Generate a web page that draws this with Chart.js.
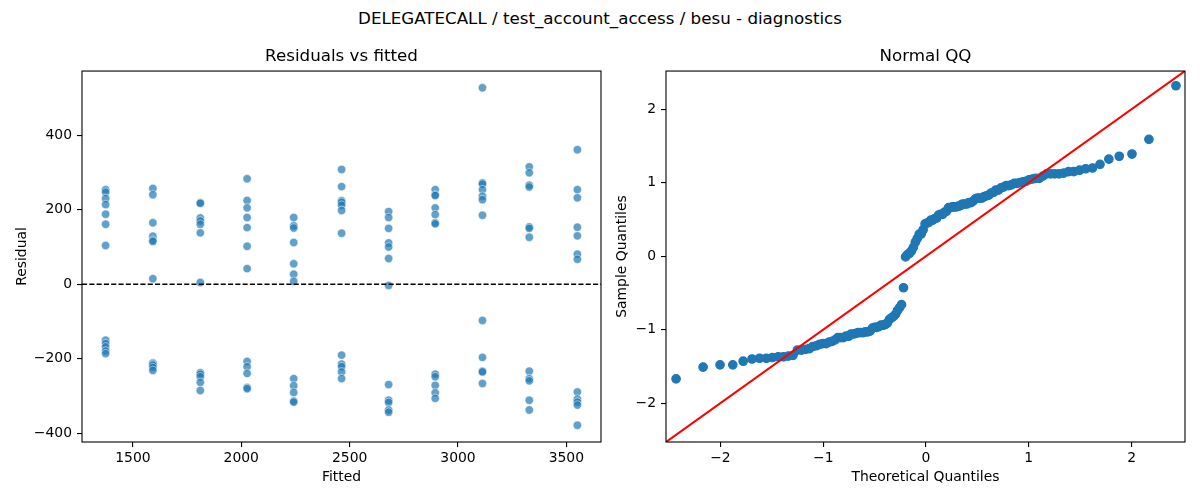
<!DOCTYPE html>
<html>
<head>
<meta charset="utf-8">
<title>DELEGATECALL / test_account_access / besu - diagnostics</title>
<script src="https://cdn.jsdelivr.net/npm/chart.js@4.4.1/dist/chart.umd.min.js"></script>
<style>
  body { margin: 0; background: #fff; }
  #fig { position: relative; width: 1200px; height: 500px; font-family: "DejaVu Sans", sans-serif; }
  #suptitle { position: absolute; left: 0; top: 8px; width: 1200px; text-align: center; font-size: 16.7px; line-height: 20px; color: #000; }
  canvas { position: absolute; left: 0; top: 0; }
</style>
</head>
<body>
<div id="fig">
  <div id="suptitle">DELEGATECALL / test_account_access / besu - diagnostics</div>
  <canvas id="residChart" width="1200" height="500"></canvas>
  <canvas id="qqChart" width="1200" height="500"></canvas>
</div>
<script>
// residuals vs fitted: one row of residuals per fitted level
const fittedLevels = [1374, 1592, 1811, 2027, 2242, 2463, 2680, 2895, 3113, 3329, 3551];
const residuals = [
    [254, 247, 230, 214, 188, 161, 104, -150, -159, -168, -179, -186],
    [257, 240, 165, 129, 118, 115, 15, -211, -214, -217, -223, -231],
    [219, 217, 178, 170, 161, 138, 5, -237, -241, -248, -263, -285],
    [283, 225, 205, 179, 152, 102, 42, -207, -221, -239, -277, -280],
    [179, 157, 151, 112, 55, 27, 8, -253, -272, -290, -313, -316],
    [308, 262, 224, 220, 212, 198, 137, -190, -214, -221, -235, -253],
    [195, 179, 150, 111, 100, 69, -3, -269, -311, -317, -337, -343],
    [254, 240, 238, 205, 187, 165, 162, -241, -248, -271, -291, -306],
    [527, 272, 269, 254, 236, 227, 185, -97, -196, -233, -235, -266],
    [315, 299, 266, 261, 154, 150, 126, -233, -253, -259, -311, -337],
    [361, 254, 232, 153, 130, 81, 67, -289, -308, -316, -324, -378]
];
const fittedRange = [1265, 3660];
const residualRange = [-423, 572];
const fittedTicks = [1500, 2000, 2500, 3000, 3500];
const residualTicks = [-400, -200, 0, 200, 400];

// normal QQ
const theoreticalQuantiles = [
    -2.432, -2.169, -2.004, -1.880, -1.779, -1.693, -1.620, -1.554, -1.494, -1.438,
    -1.387, -1.340, -1.294, -1.252, -1.212, -1.174, -1.137, -1.102, -1.068, -1.035,
    -1.003, -0.972, -0.943, -0.914, -0.885, -0.858, -0.831, -0.805, -0.779, -0.753,
    -0.729, -0.704, -0.681, -0.657, -0.634, -0.611, -0.589, -0.566, -0.544, -0.522,
    -0.501, -0.480, -0.459, -0.438, -0.417, -0.397, -0.376, -0.356, -0.336, -0.316,
    -0.296, -0.277, -0.257, -0.238, -0.219, -0.199, -0.180, -0.161, -0.142, -0.123,
    -0.104, -0.085, -0.066, -0.047, -0.028, -0.009,
    0.009, 0.028, 0.047, 0.066, 0.085, 0.104, 0.123, 0.142, 0.161, 0.180,
    0.199, 0.219, 0.238, 0.257, 0.277, 0.296, 0.316, 0.336, 0.356, 0.376,
    0.397, 0.417, 0.438, 0.459, 0.480, 0.501, 0.522, 0.544, 0.566, 0.589,
    0.611, 0.634, 0.657, 0.681, 0.704, 0.729, 0.753, 0.779, 0.805, 0.831,
    0.858, 0.885, 0.914, 0.943, 0.972, 1.003, 1.035, 1.068, 1.102, 1.137,
    1.174, 1.212, 1.252, 1.294, 1.340, 1.387, 1.438, 1.494, 1.554, 1.620,
    1.693, 1.779, 1.880, 2.004, 2.169, 2.432
];
const sampleQuantiles = [
    -1.67, -1.51, -1.48, -1.48, -1.43, -1.40, -1.39, -1.39, -1.38, -1.37,
    -1.37, -1.36, -1.35, -1.28, -1.28, -1.27, -1.26, -1.23, -1.22, -1.20,
    -1.19, -1.19, -1.17, -1.16, -1.14, -1.11, -1.11, -1.11, -1.09, -1.09,
    -1.06, -1.06, -1.05, -1.04, -1.04, -1.04, -1.03, -1.03, -1.02, -0.98,
    -0.97, -0.97, -0.96, -0.94, -0.94, -0.93, -0.91, -0.86, -0.84, -0.82,
    -0.79, -0.74, -0.70, -0.66, -0.43, -0.01,
    0.02, 0.04, 0.07, 0.12, 0.19, 0.24, 0.30, 0.30, 0.36, 0.44,
    0.45, 0.46, 0.49, 0.49, 0.51, 0.52, 0.56, 0.57, 0.57, 0.60,
    0.61, 0.66, 0.66, 0.67, 0.67, 0.67, 0.68, 0.69, 0.71, 0.71,
    0.71, 0.73, 0.73, 0.75, 0.78, 0.79, 0.79, 0.79, 0.81, 0.82,
    0.83, 0.86, 0.87, 0.90, 0.90, 0.93, 0.94, 0.96, 0.96, 0.97,
    0.99, 0.99, 1.00, 1.01, 1.02, 1.04, 1.05, 1.06, 1.06, 1.09,
    1.12, 1.12, 1.12, 1.12, 1.13, 1.15, 1.15, 1.17, 1.19, 1.20,
    1.25, 1.32, 1.36, 1.39, 1.59, 2.32
];
const qqRange = [-2.53, 2.52];
const qqTicks = [-2, -1, 0, 1, 2];

const FONT = "'DejaVu Sans', sans-serif";
Chart.defaults.font.family = FONT;
Chart.defaults.color = '#000';

const minus = v => v < 0 ? '\u2212' + Math.abs(v) : String(v);

// matplotlib style box round the axes
const frame = {
    id: 'frame',
    afterDatasetsDraw(chart) {
        const { ctx, chartArea: a } = chart;
        ctx.save();
        ctx.strokeStyle = '#000';
        ctx.lineWidth = 1.1;
        ctx.strokeRect(a.left, a.top, a.right - a.left, a.bottom - a.top);
        ctx.restore();
    }
};

function makeScale(range, ticks, label, horizontal, size) {
    return {
        type: 'linear',
        min: range[0],
        max: range[1],
        afterBuildTicks: (scale) => { scale.ticks = ticks.map(v => ({ value: v })); },
        afterFit: (scale) => { if (horizontal) scale.height = size; else scale.width = size; },
        grid: { drawOnChartArea: false, drawTicks: true, tickLength: 5, color: '#000', lineWidth: 1.1 },
        border: { display: false },
        ticks: { padding: horizontal ? 3 : 5, font: { size: 13.9 }, color: '#000', callback: minus, maxRotation: 0, autoSkip: false },
        title: {
            display: true,
            text: label,
            font: { size: 13.9 },
            color: '#000',
            padding: horizontal ? { top: 0, bottom: 14 } : { top: 13.7, bottom: 0 }
        }
    };
}

function baseOptions(title, padding, xScale, yScale) {
    return {
        responsive: false,
        animation: false,
        events: [],
        layout: { padding },
        plugins: {
            legend: { display: false },
            tooltip: { enabled: false },
            title: {
                display: true,
                text: title,
                fullSize: false,
                font: { size: 16.7, weight: 'normal' },
                color: '#000',
                padding: { top: 0, bottom: 4 }
            }
        },
        scales: { x: xScale, y: yScale }
    };
}

const residPoints = fittedLevels.flatMap((f, i) => residuals[i].map(r => ({ x: f, y: r })));

new Chart(document.getElementById('residChart'), {
    type: 'scatter',
    data: {
        datasets: [{
            data: [{ x: fittedRange[0], y: 0 }, { x: fittedRange[1], y: 0 }],
            showLine: true,
            pointRadius: 0,
            borderColor: '#000',
            borderWidth: 1.4,
            borderDash: [5.1, 2.2]
        }, {
            data: residPoints,
            pointRadius: 4.2,
            pointBackgroundColor: 'rgba(31, 119, 180, 0.7)',
            pointBorderColor: 'rgba(255, 255, 255, 0.7)',
            pointBorderWidth: 0.7
        }]
    },
    options: baseOptions('Residuals vs fitted', { top: 47, left: 0, right: 599, bottom: 0 },
        makeScale(fittedRange, fittedTicks, 'Fitted', true, 58),
        makeScale(residualRange, residualTicks, 'Residual', false, 82)),
    plugins: [frame]
});

const qqPoints = theoreticalQuantiles.map((t, i) => ({ x: t, y: sampleQuantiles[i] }));

new Chart(document.getElementById('qqChart'), {
    type: 'scatter',
    data: {
        datasets: [{
            data: [{ x: qqRange[0], y: qqRange[0] }, { x: qqRange[1], y: qqRange[1] }],
            showLine: true,
            pointRadius: 0,
            borderColor: '#ff0000',
            borderWidth: 2.1
        }, {
            data: qqPoints,
            pointRadius: 4.2,
            pointBackgroundColor: '#1f77b4',
            pointBorderColor: '#1f77b4',
            pointBorderWidth: 1.3
        }]
    },
    options: baseOptions('Normal QQ', { top: 47, left: 600, right: 15, bottom: 0 },
        makeScale(qqRange, qqTicks, 'Theoretical Quantiles', true, 58),
        makeScale(qqRange, qqTicks, 'Sample Quantiles', false, 66)),
    plugins: [frame]
});
</script>
</body>
</html>
